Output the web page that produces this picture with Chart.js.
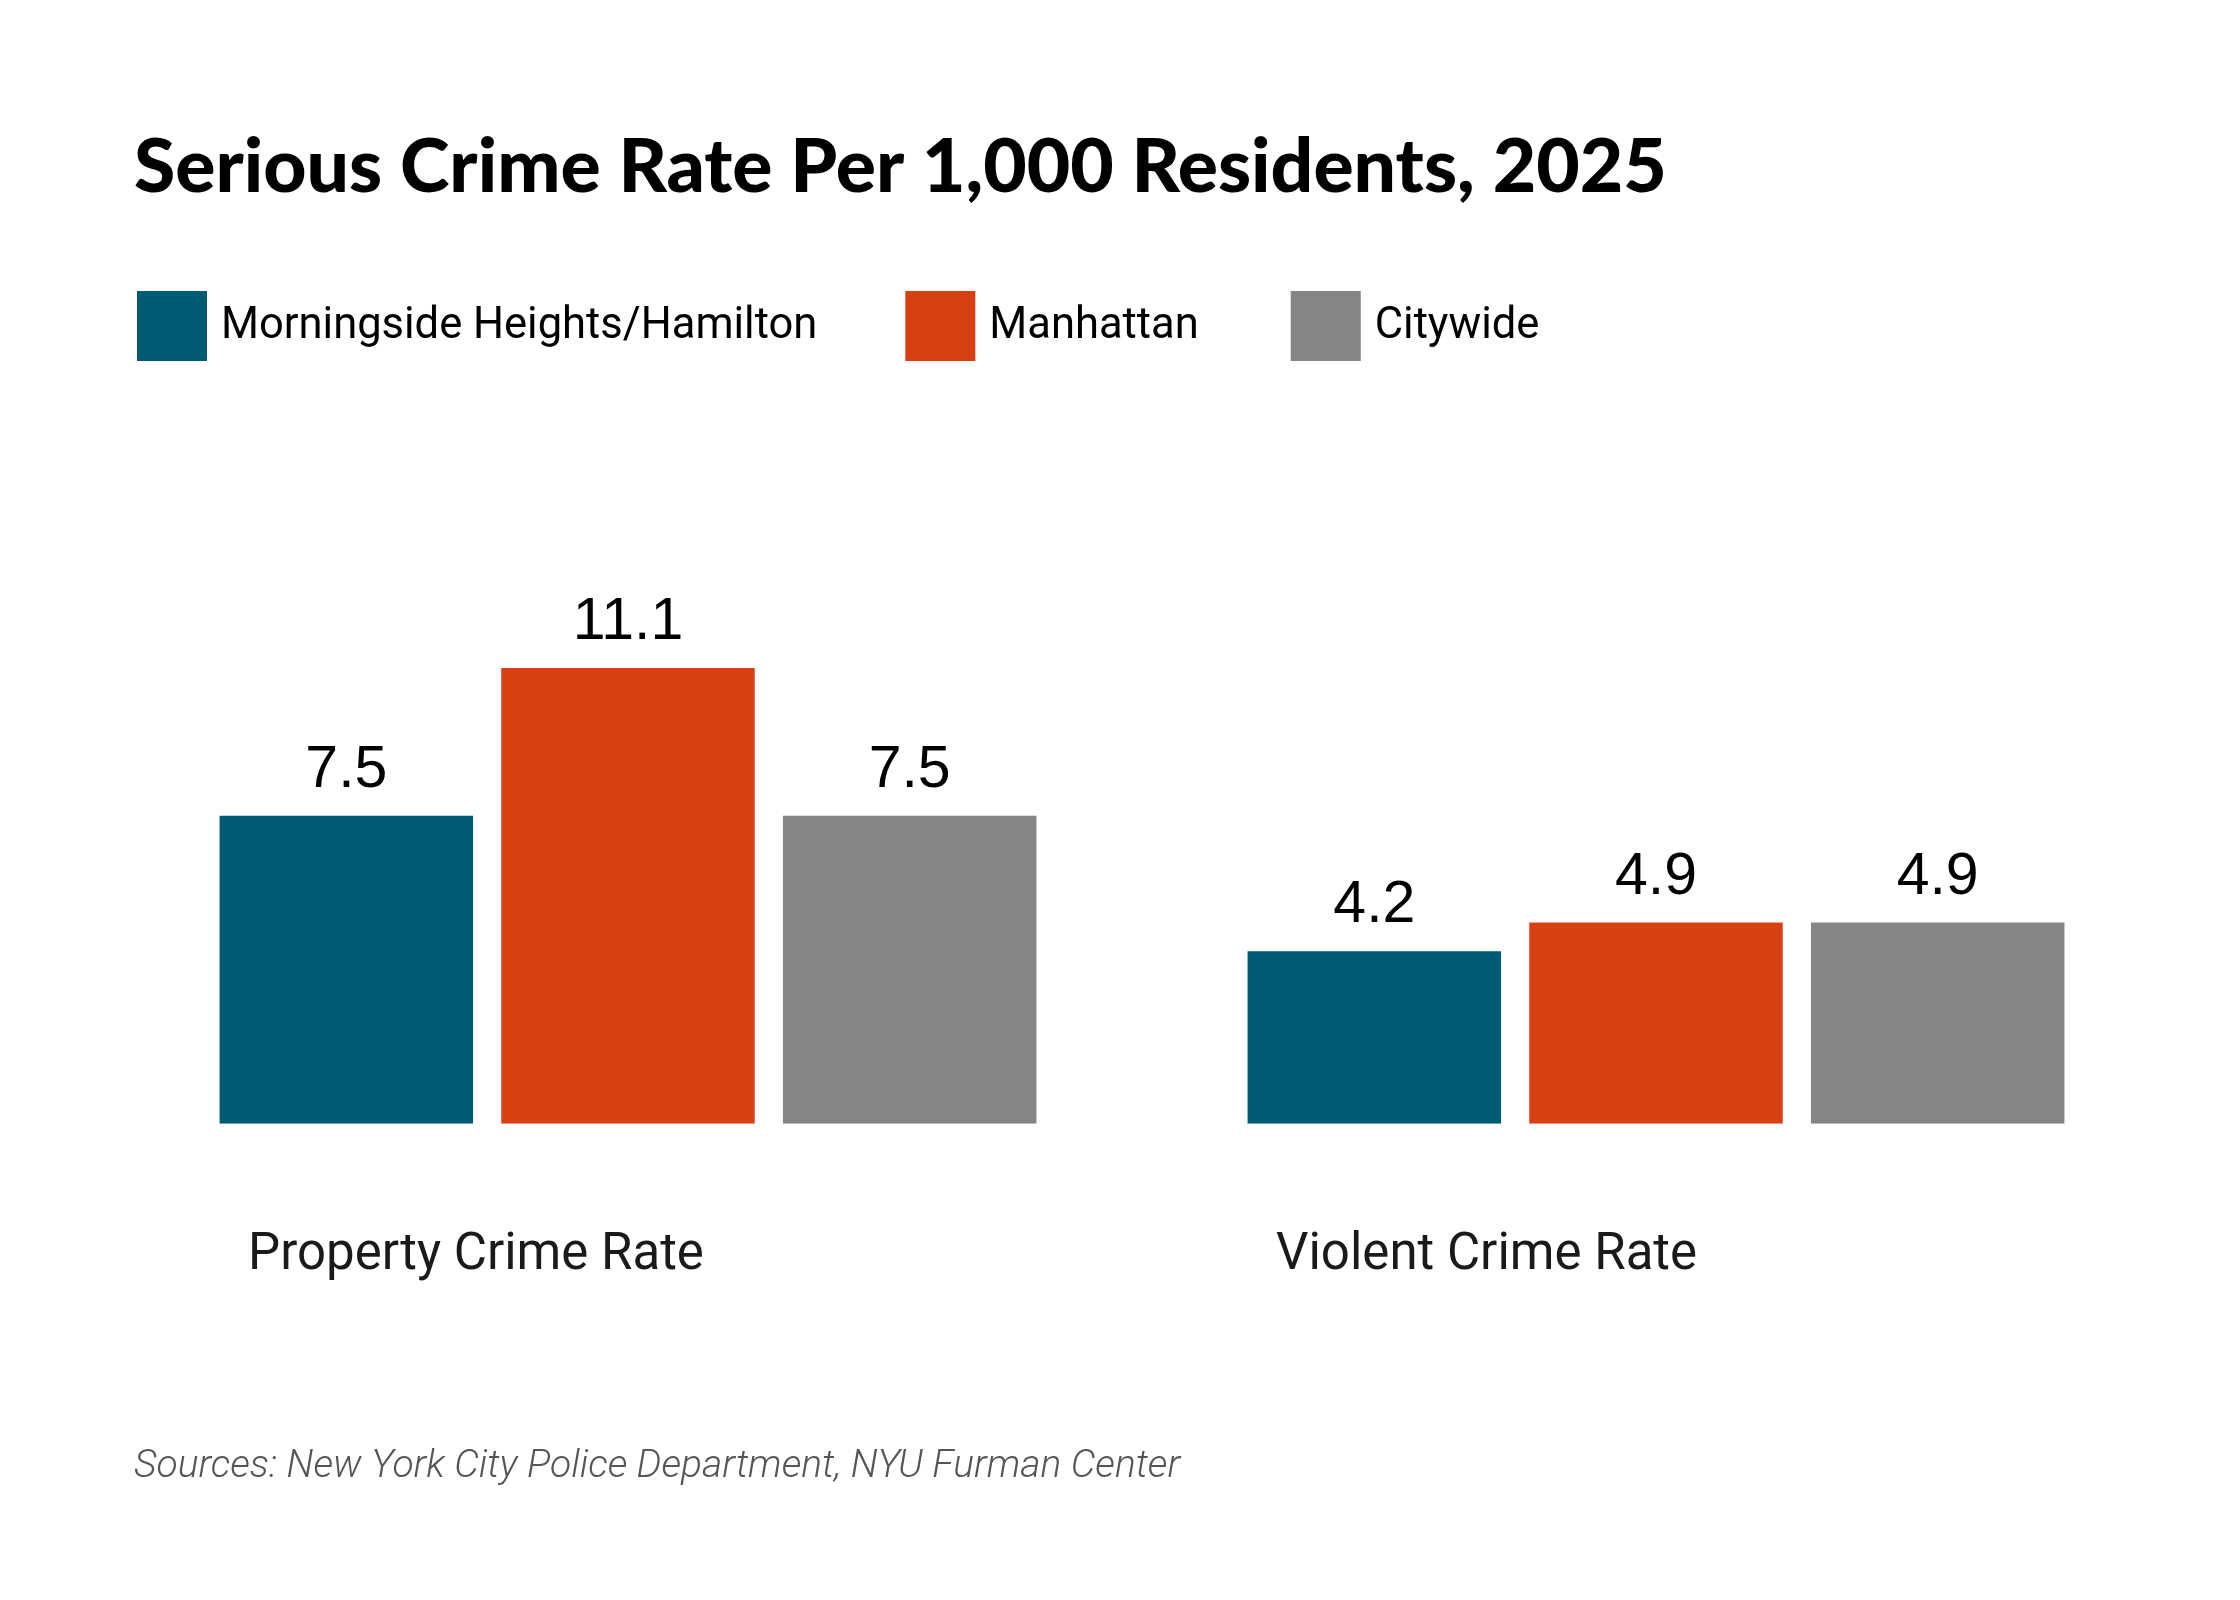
<!DOCTYPE html>
<html>
<head>
<meta charset="utf-8">
<script src="https://cdn.jsdelivr.net/npm/chart.js@4"></script>
<style>
  html, body { margin: 0; padding: 0; background: #fff; }
  #wrap { width: 2240px; height: 1600px; }
</style>
</head>
<body>
<div id="wrap"><canvas id="crime"></canvas></div>
<script>
const categories = ['Property Crime Rate', 'Violent Crime Rate'];
const seriesNames = ['Morningside Heights/Hamilton', 'Manhattan', 'Citywide'];
const neighborhood = [7.5, 4.2];
const manhattan = [11.1, 4.9];
const citywide = [7.5, 4.9];
const colors = ['#025A73', '#D74013', '#848587'];

const titleText = 'Serious Crime Rate Per 1,000 Residents, 2025';
const sourceText = 'Sources: New York City Police Department, NYU Furman Center';

// title, legend and source note drawn at fixed spots
const decorations = {
  id: 'decorations',
  afterDraw(chart) {
    const ctx = chart.ctx;
    ctx.save();
    ctx.textBaseline = 'alphabetic';
    ctx.textAlign = 'left';
    ctx.fillStyle = '#000';
    // fit the title to the width it has in the original
    ctx.font = '900 68px Lato';
    const size = 68 * 1533 / ctx.measureText(titleText).width;
    ctx.font = '900 ' + size.toFixed(1) + 'px Lato';
    ctx.fillText(titleText, 134, 192);

    ctx.font = '43.5px Roboto';
    let x = 137;
    const gaps = [88, 92];
    chart.data.datasets.forEach((ds, i) => {
      ctx.fillStyle = ds.backgroundColor;
      ctx.fillRect(x, 291, 70, 70);
      ctx.fillStyle = '#000';
      ctx.fillText(ds.label, x + 84, 338);
      x += 84 + ctx.measureText(ds.label).width + (gaps[i] || 0);
    });

    ctx.font = 'italic 300 39px Roboto';
    ctx.fillStyle = '#555';
    ctx.fillText(sourceText, 134, 1477);
    ctx.restore();
  }
};

// value labels above bars
const valueLabels = {
  id: 'valueLabels',
  afterDatasetsDraw(chart) {
    const ctx = chart.ctx;
    ctx.save();
    ctx.font = '59px "Liberation Sans", Arial';
    ctx.fillStyle = '#000';
    ctx.textAlign = 'center';
    ctx.textBaseline = 'alphabetic';
    chart.data.datasets.forEach((ds, i) => {
      chart.getDatasetMeta(i).data.forEach((bar, j) => {
        ctx.fillText(ds.data[j].toFixed(1), bar.x, bar.y - 29);
      });
    });
    ctx.restore();
  }
};

new Chart(document.getElementById('crime'), {
  type: 'bar',
  data: {
    labels: categories,
    datasets: [
      { label: seriesNames[0], data: neighborhood, backgroundColor: colors[0] },
      { label: seriesNames[1], data: manhattan, backgroundColor: colors[1] },
      { label: seriesNames[2], data: citywide, backgroundColor: colors[2] }
    ]
  },
  options: {
    responsive: true,
    maintainAspectRatio: false,
    animation: false,
    layout: { padding: { left: 114, right: 70, top: 549, bottom: 219 } },
    datasets: { bar: { categoryPercentage: 0.822, barPercentage: 0.9 } },
    plugins: {
      legend: { display: false },
      title: { display: false },
      tooltip: { enabled: false }
    },
    scales: {
      y: { display: false, min: 0, max: 14 },
      x: {
        grid: { display: false },
        border: { display: false },
        ticks: {
          align: 'start',
          labelOffset: -380,
          padding: 94,
          color: '#1a1a1a',
          font: { family: 'Roboto', size: 51 }
        }
      }
    }
  },
  plugins: [decorations, valueLabels]
});
</script>
</body>
</html>
